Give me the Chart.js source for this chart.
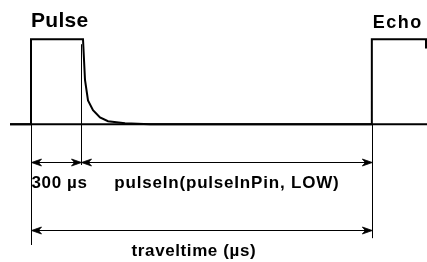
<!DOCTYPE html>
<html>
<head>
<meta charset="UTF-8">
<title>Pulse / Echo</title>
<script src="https://cdn.jsdelivr.net/npm/chart.js"></script>
<style>
  body { margin: 0; background: #fff; }
  #wrap { width: 427px; height: 262px; }
</style>
</head>
<body>
<div id="wrap"><canvas id="timing"></canvas></div>
<script>
// signal trace (time in µs, level 0 = LOW, 1 = HIGH)
const signalTime  = [-126, 0, 0, 312, 324, 342, 372, 414, 462, 564, 714, 2045, 2045, 2370, 2370];
const signalLevel = [0, 0, 1, 1, 0.52, 0.28, 0.165, 0.08, 0.035, 0.012, 0, 0, 1, 1, 0.89];
const baseTime = [-126, 2376];

// guide lines
const guideTime   = [0, 300, 2045];
const guideTop    = [0, 0.94, 0];
const guideBottom = [-1.42, -0.48, -1.34];

// measured spans
const spanFrom   = [0, 300, 0];
const spanTo     = [300, 2045, 2045];
const spanLevel  = [-0.447, -0.447, -1.247];
const spanLabels = ['300 µs', 'pulseIn(pulseInPin, LOW)', 'traveltime (µs)'];

// captions
const capTime   = [0, 2045];
const capLabels = ['Pulse', 'Echo'];

const pts = (xs, ys) => xs.map((x, i) => ({x: x, y: ys[i]}));

function arrowHead(ctx, x, y, dir) {
  ctx.beginPath();
  ctx.moveTo(x, y);
  ctx.lineTo(x + dir * 10, y - 3.5);
  ctx.lineTo(x + dir * 7, y);
  ctx.lineTo(x + dir * 10, y + 3.5);
  ctx.closePath();
  ctx.fill();
  ctx.stroke();
}

const annotate = {
  id: 'annotate',
  afterDatasetsDraw(chart) {
    const ctx = chart.ctx, xs = chart.scales.x, ys = chart.scales.y;
    ctx.save();
    ctx.strokeStyle = '#000';
    ctx.fillStyle = '#000';
    ctx.lineWidth = 1;

    guideTime.forEach((t, i) => {
      const x = Math.round(xs.getPixelForValue(t)) + 0.5;
      ctx.beginPath();
      ctx.moveTo(x, ys.getPixelForValue(guideTop[i]));
      ctx.lineTo(x, ys.getPixelForValue(guideBottom[i]));
      ctx.stroke();
    });

    ctx.textAlign = 'center';
    ctx.textBaseline = 'alphabetic';
    ctx.font = 'bold 17px "Liberation Sans", Arial, sans-serif';
    spanFrom.forEach((t0, i) => {
      const x0 = xs.getPixelForValue(t0) + 0.5;
      const x1 = xs.getPixelForValue(spanTo[i]) + 0.5;
      const y = Math.round(ys.getPixelForValue(spanLevel[i])) + 0.5;
      ctx.lineWidth = 1;
      ctx.beginPath();
      ctx.moveTo(x0 + 2, y);
      ctx.lineTo(x1 - 2, y);
      ctx.stroke();
      ctx.lineWidth = 0.8;
      arrowHead(ctx, x0, y, 1);
      arrowHead(ctx, x1, y, -1);
      const shift = i === 2 ? -8 : (i === 0 ? 3 : 0);
      ctx.letterSpacing = i === 1 ? '0.8px' : '0.6px';
      ctx.fillText(spanLabels[i], (x0 + x1) / 2 + shift, y + 25);
    });

    ctx.textAlign = 'left';
    ctx.letterSpacing = '0.3px';
    ctx.font = 'bold 21px "Liberation Sans", Arial, sans-serif';
    ctx.fillText(capLabels[0], xs.getPixelForValue(capTime[0]), 27);
    ctx.font = 'bold 18px "Liberation Sans", Arial, sans-serif';
    ctx.letterSpacing = '1.5px';
    ctx.fillText(capLabels[1], xs.getPixelForValue(capTime[1]) + 1, 28);
    ctx.restore();
  }
};

new Chart(document.getElementById('timing'), {
  type: 'line',
  data: {
    datasets: [
      { data: pts(baseTime, [0, 0]), borderColor: '#000', borderWidth: 2, pointRadius: 0 },
      { data: pts(signalTime, signalLevel), borderColor: '#000', borderWidth: 2, pointRadius: 0, tension: 0 }
    ]
  },
  options: {
    responsive: true,
    maintainAspectRatio: false,
    animation: false,
    layout: { padding: 0 },
    plugins: { legend: { display: false }, tooltip: { enabled: false } },
    scales: {
      x: { type: 'linear', min: -186, max: 2376, display: false },
      y: { min: -1.62, max: 1.46, display: false }
    }
  },
  plugins: [annotate]
});
</script>
</body>
</html>
